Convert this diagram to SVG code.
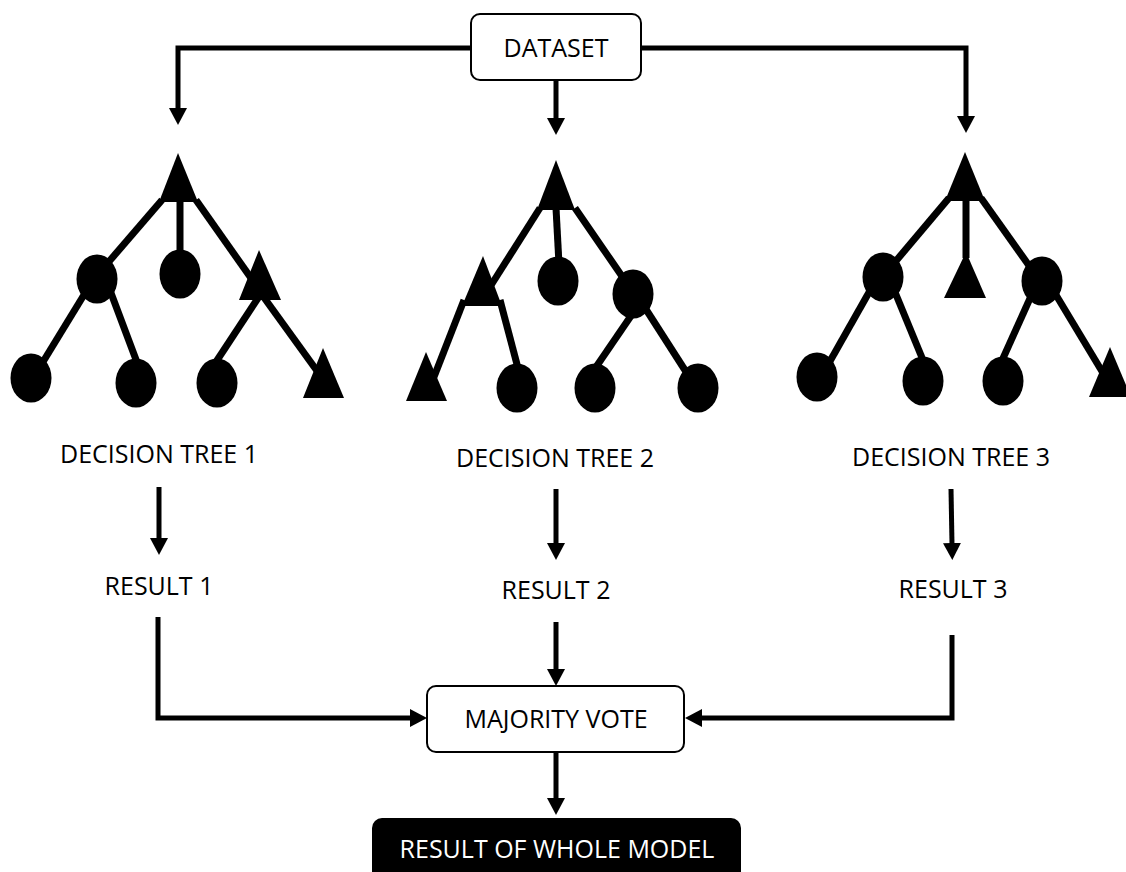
<svg xmlns="http://www.w3.org/2000/svg" width="1126" height="872" viewBox="0 0 1126 872">
  <style>
    .lbl { font-family: "Open Sans", "Liberation Sans", sans-serif; font-size: 25px; fill: #000; text-anchor: middle; }
    .box { fill: #fff; stroke: #000; stroke-width: 2; }
    .flow { fill: none; stroke: #000; stroke-width: 5; stroke-linejoin: miter; marker-end: url(#head); }
    .edge { stroke: #000; stroke-width: 7; }
    .leaf { fill: #000; }
  </style>
  <defs>
    <marker id="head" viewBox="0 -9 17 18" markerWidth="17" markerHeight="18" refX="1" refY="0" orient="auto" markerUnits="userSpaceOnUse">
      <path d="M0,-9 L17,0 L0,9 Z" fill="#000"/>
    </marker>
  </defs>
  <rect width="1126" height="872" fill="#fff"/>

  <!-- connectors -->
  <g id="connectors">
    <path class="flow" d="M471,48 H178 V109"/>
    <path class="flow" d="M556,80 V119"/>
    <path class="flow" d="M641,48 H966 V117"/>
    <path class="flow" d="M159,487 V539"/>
    <path class="flow" d="M556,489 V544"/>
    <path class="flow" d="M951,489 L952,544"/>
    <path class="flow" d="M158,617 V718 H411"/>
    <path class="flow" d="M556,622 V670"/>
    <path class="flow" d="M952,635 V718 H701"/>
    <path class="flow" d="M556,752 V799"/>
  </g>

  <g id="dataset">
    <rect class="box" x="471" y="14" width="170" height="66" rx="9"/>
    <text class="lbl" x="556" y="57">DATASET</text>
  </g>

  <!-- tree 1 -->
  <g id="tree1">
    <g class="edge">
      <line x1="162" y1="200" x2="100" y2="272"/>
      <line x1="180" y1="200" x2="180" y2="262"/>
      <line x1="196" y1="200" x2="258" y2="288"/>
      <line x1="90" y1="285" x2="38" y2="370"/>
      <line x1="108" y1="285" x2="138" y2="365"/>
      <line x1="262" y1="292" x2="212" y2="368"/>
      <line x1="260" y1="292" x2="320" y2="375"/>
    </g>
    <g class="leaf">
      <polygon points="178,153 198,202 159,202"/>
      <ellipse cx="97" cy="279" rx="20.5" ry="24.5"/>
      <ellipse cx="180" cy="274" rx="20.5" ry="24.5"/>
      <polygon points="259,250 281,300 239,300"/>
      <ellipse cx="31" cy="378" rx="20.5" ry="24.5"/>
      <ellipse cx="136" cy="383" rx="20.5" ry="24.5"/>
      <ellipse cx="217" cy="383" rx="20.5" ry="24.5"/>
      <polygon points="323,348 344,398 303,398"/>
    </g>
  </g>

  <!-- tree 2 -->
  <g id="tree2">
    <g class="edge">
      <line x1="540" y1="208" x2="488" y2="290"/>
      <line x1="556" y1="208" x2="559" y2="264"/>
      <line x1="575" y1="208" x2="628" y2="285"/>
      <line x1="464" y1="300" x2="432" y2="382"/>
      <line x1="500" y1="300" x2="519" y2="372"/>
      <line x1="635" y1="310" x2="594" y2="370"/>
      <line x1="640" y1="300" x2="690" y2="378"/>
    </g>
    <g class="leaf">
      <polygon points="556,160 575,210 537,210"/>
      <polygon points="483,256 502,306 462,306"/>
      <ellipse cx="558" cy="281" rx="20.5" ry="24.5"/>
      <ellipse cx="633" cy="294" rx="20.5" ry="24.5"/>
      <polygon points="426,352 447,401 406,401"/>
      <ellipse cx="517" cy="388" rx="20.5" ry="24.5"/>
      <ellipse cx="595" cy="388" rx="20.5" ry="24.5"/>
      <ellipse cx="698" cy="388" rx="20.5" ry="24.5"/>
    </g>
  </g>

  <!-- tree 3 -->
  <g id="tree3">
    <g class="edge">
      <line x1="949" y1="198" x2="890" y2="268"/>
      <line x1="966" y1="198" x2="966" y2="258"/>
      <line x1="981" y1="198" x2="1035" y2="274"/>
      <line x1="876" y1="280" x2="825" y2="370"/>
      <line x1="890" y1="280" x2="925" y2="365"/>
      <line x1="1036" y1="285" x2="1000" y2="365"/>
      <line x1="1050" y1="285" x2="1106" y2="378"/>
    </g>
    <g class="leaf">
      <polygon points="965,152 985,201 945,201"/>
      <ellipse cx="883" cy="277" rx="20.5" ry="24.5"/>
      <polygon points="966,252 986,298 944,298"/>
      <ellipse cx="1042" cy="281" rx="20.5" ry="24.5"/>
      <ellipse cx="817" cy="377" rx="20.5" ry="24.5"/>
      <ellipse cx="923" cy="381" rx="20.5" ry="24.5"/>
      <ellipse cx="1003" cy="381" rx="20.5" ry="24.5"/>
      <polygon points="1110,347 1131,397 1089,397"/>
    </g>
  </g>

  <g id="label-tree1"><text class="lbl" x="159" y="463">DECISION TREE 1</text></g>
  <g id="label-tree2"><text class="lbl" x="555" y="467">DECISION TREE 2</text></g>
  <g id="label-tree3"><text class="lbl" x="951" y="466">DECISION TREE 3</text></g>

  <g id="result1"><text class="lbl" x="159" y="595">RESULT 1</text></g>
  <g id="result2"><text class="lbl" x="556" y="599">RESULT 2</text></g>
  <g id="result3"><text class="lbl" x="953" y="598">RESULT 3</text></g>

  <g id="majority-vote">
    <rect class="box" x="427" y="686" width="257" height="66" rx="9"/>
    <text class="lbl" x="556" y="728">MAJORITY VOTE</text>
  </g>

  <g id="final-result">
    <rect x="372" y="818" width="369" height="72" rx="10" fill="#000"/>
    <text class="lbl" x="557" y="858" style="fill:#fff">RESULT OF WHOLE MODEL</text>
  </g>
</svg>
